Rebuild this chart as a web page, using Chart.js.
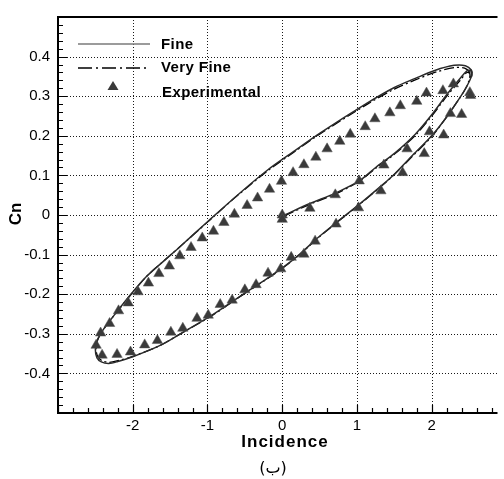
<!DOCTYPE html>
<html>
<head>
<meta charset="utf-8">
<script src="https://cdn.jsdelivr.net/npm/chart.js@4/dist/chart.umd.min.js"></script>
<style>
  body { margin: 0; background: #fff; overflow: hidden; }
  #wrap { width: 504px; height: 479px; }
</style>
</head>
<body>
<div id="wrap"><canvas id="myChart" width="504" height="479"></canvas></div>
<script>
// Cn vs incidence, hysteresis loop (start at 0, up, then around the loop)
const fineX = [0.03, 0.37, 0.72, 1.03, 1.25, 1.51, 1.78, 2.0, 2.21, 2.39, 2.48, 2.53,
  2.52, 2.46, 2.39, 2.21, 2.0, 1.75, 1.51, 1.34, 1.03, 0.75, 0.46, 0.24, 0.02, -0.2, -0.5, -0.94, -1.38, -1.64, -2.0, -2.2, -2.32, -2.42, -2.48, -2.5, -2.48,
  -2.39, -2.24, -2.02, -1.82, -1.56, -1.38, -1.0, -0.6, -0.2, 0.15, 0.5, 1.14, 1.5, 1.78, 2.04, 2.3, 2.45, 2.53, 2.54, 2.52];
const fineY = [0.0, 0.029, 0.056, 0.086, 0.12, 0.157, 0.204, 0.253, 0.306, 0.347, 0.365, 0.362,
  0.345, 0.322, 0.3, 0.25, 0.2, 0.152, 0.105, 0.076, 0.027, -0.015, -0.06, -0.098, -0.131, -0.16, -0.197, -0.253, -0.302, -0.33, -0.358, -0.37, -0.375, -0.371, -0.36, -0.34, -0.318,
  -0.288, -0.251, -0.199, -0.156, -0.112, -0.082, -0.017, 0.05, 0.113, 0.16, 0.206, 0.283, 0.322, 0.345, 0.365, 0.378, 0.377, 0.366, 0.354, 0.345];

const veryFineX = [0.03, 0.37, 0.72, 1.03, 1.25, 1.51, 1.78, 2.0, 2.21, 2.39, 2.47, 2.51,
  2.5, 2.45, 2.38, 2.2, 2.0, 1.75, 1.51, 1.34, 1.03, 0.75, 0.46, 0.24, 0.02, -0.2, -0.5, -0.94, -1.38, -1.64, -2.0, -2.2, -2.31, -2.41, -2.47, -2.49, -2.47,
  -2.38, -2.23, -2.01, -1.82, -1.56, -1.38, -1.0, -0.6, -0.2, 0.15, 0.5, 1.14, 1.5, 1.78, 2.04, 2.3, 2.44, 2.51, 2.52, 2.5];
const veryFineY = [-0.002, 0.027, 0.054, 0.085, 0.118, 0.155, 0.201, 0.25, 0.302, 0.342, 0.36, 0.357,
  0.34, 0.318, 0.297, 0.248, 0.198, 0.15, 0.104, 0.075, 0.026, -0.016, -0.061, -0.099, -0.132, -0.161, -0.198, -0.254, -0.302, -0.33, -0.357, -0.368, -0.372, -0.368, -0.357, -0.338, -0.316,
  -0.286, -0.249, -0.198, -0.156, -0.112, -0.082, -0.018, 0.049, 0.111, 0.158, 0.204, 0.28, 0.318, 0.341, 0.36, 0.372, 0.371, 0.36, 0.35, 0.34];

const expX = [0, 0, 0.37, 0.71, 1.03, 1.36, 1.67, 1.97, 2.25, 2.51,
  2.4, 2.16, 1.9, 1.61, 1.32, 1.02, 0.72, 0.44, 0.29, 0.12, -0.02, -0.19, -0.35, -0.5, -0.67, -0.83, -0.99, -1.14, -1.33, -1.49, -1.67, -1.84, -2.03, -2.21, -2.41, -2.49,
  -2.43, -2.31, -2.19, -2.06, -1.93, -1.79, -1.65, -1.51, -1.37, -1.22, -1.07, -0.92, -0.78, -0.64, -0.47, -0.33, -0.17, -0.01, 0.145, 0.29, 0.45, 0.6, 0.77, 0.91, 1.11, 1.24, 1.44, 1.58, 1.8, 1.93, 2.15, 2.29, 2.52];
const expY = [0, -0.011, 0.017, 0.051, 0.086, 0.126, 0.167, 0.21, 0.256, 0.309,
  0.254, 0.202, 0.155, 0.107, 0.061, 0.018, -0.023, -0.066, -0.099, -0.107, -0.136, -0.147, -0.176, -0.189, -0.215, -0.226, -0.253, -0.261, -0.286, -0.296, -0.317, -0.328, -0.346, -0.352, -0.354, -0.329,
  -0.298, -0.274, -0.242, -0.222, -0.194, -0.172, -0.148, -0.129, -0.103, -0.082, -0.058, -0.041, -0.019, 0.002, 0.024, 0.043, 0.065, 0.085, 0.107, 0.127, 0.146, 0.167, 0.186, 0.204, 0.223, 0.243, 0.258, 0.276, 0.287, 0.308, 0.314, 0.331, 0.302];

const xTicks = [-2, -1, 0, 1, 2];
const yTicks = [-0.4, -0.3, -0.2, -0.1, 0, 0.1, 0.2, 0.3, 0.4];

const FONT = "'Liberation Sans', Arial, sans-serif";
const fineLegendColor = '#7a7a7a';
const fineColor = '#2a2a2a';
const triColor = '#3a3a3a';

function pts(xs, ys) {
  return xs.map((x, i) => ({x: x, y: ys[i]}));
}

// dotted grid at the labelled ticks
const dottedGrid = {
  id: 'dottedGrid',
  beforeDatasetsDraw(chart) {
    const ctx = chart.ctx;
    const a = chart.chartArea;
    const xs = chart.scales.x, ys = chart.scales.y;
    ctx.save();
    ctx.strokeStyle = '#1a1a1a';
    ctx.lineWidth = 1;
    ctx.setLineDash([1, 2]);
    ctx.beginPath();
    xTicks.forEach(v => {
      const px = Math.round(xs.getPixelForValue(v)) + 0.5;
      ctx.moveTo(px, a.top);
      ctx.lineTo(px, a.bottom);
    });
    yTicks.forEach(v => {
      const py = Math.round(ys.getPixelForValue(v)) + 0.5;
      ctx.moveTo(a.left, py);
      ctx.lineTo(a.right, py);
    });
    ctx.stroke();
    ctx.restore();
  }
};

// frame, inward tick marks, axis titles, legend, caption
const decor = {
  id: 'decor',
  afterDraw(chart) {
    const ctx = chart.ctx;
    const a = chart.chartArea;
    const xs = chart.scales.x, ys = chart.scales.y;
    ctx.save();
    ctx.strokeStyle = '#000';
    ctx.lineWidth = 2;
    ctx.beginPath();
    ctx.moveTo(a.left - 1, a.top);
    ctx.lineTo(a.right, a.top);
    ctx.moveTo(a.left, a.top);
    ctx.lineTo(a.left, a.bottom + 1);
    ctx.moveTo(a.left - 1, a.bottom);
    ctx.lineTo(a.right, a.bottom);
    ctx.stroke();

    ctx.lineWidth = 1.2;
    ctx.beginPath();
    for (let i = -15; i <= 15; i++) {
      const v = i * 0.2;
      if (v < xs.min || v > xs.max) continue;
      const px = Math.round(xs.getPixelForValue(v)) + 0.5;
      const len = (i % 5 === 0) ? 8 : 5;
      ctx.moveTo(px, a.bottom);
      ctx.lineTo(px, a.bottom - len);
    }
    for (let i = -25; i <= 25; i++) {
      const v = i * 0.02;
      const py = Math.round(ys.getPixelForValue(v)) + 0.5;
      if (py < a.top + 2 || py > a.bottom - 2) continue;
      const len = (i % 5 === 0) ? 9 : 5;
      ctx.moveTo(a.left, py);
      ctx.lineTo(a.left + len, py);
    }
    ctx.stroke();

    // axis titles
    ctx.fillStyle = '#000';
    ctx.textAlign = 'center';
    ctx.textBaseline = 'middle';
    ctx.font = 'bold 17px ' + FONT;
    ctx.letterSpacing = '1px';
    ctx.fillText('Incidence', 285, 442);
    ctx.letterSpacing = '0px';
    ctx.save();
    ctx.translate(16, 214);
    ctx.rotate(-Math.PI / 2);
    ctx.fillText('Cn', 0, 0);
    ctx.restore();

    // legend
    ctx.lineWidth = 1.6;
    ctx.strokeStyle = fineLegendColor;
    ctx.beginPath();
    ctx.moveTo(78, 44); ctx.lineTo(150, 44);
    ctx.stroke();
    ctx.strokeStyle = '#000';
    ctx.lineWidth = 1.3;
    ctx.setLineDash([14, 4, 2, 4]);
    ctx.beginPath();
    ctx.moveTo(78, 68); ctx.lineTo(150, 68);
    ctx.stroke();
    ctx.setLineDash([]);
    ctx.fillStyle = triColor;
    ctx.beginPath();
    ctx.moveTo(113, 81); ctx.lineTo(118.5, 90); ctx.lineTo(107.5, 90);
    ctx.closePath();
    ctx.fill();

    ctx.fillStyle = '#000';
    ctx.font = 'bold 15px ' + FONT;
    ctx.letterSpacing = '0.4px';
    ctx.textAlign = 'left';
    ctx.fillText('Fine', 161, 45);
    ctx.fillText('Very Fine', 161, 68);
    ctx.fillText('Experimental', 162, 93);
    ctx.letterSpacing = '0px';

    ctx.font = "16px 'DejaVu Sans', sans-serif";
    ctx.textAlign = 'center';
    ctx.fillText('(ب)', 273, 469);
    ctx.restore();
  }
};

new Chart(document.getElementById('myChart').getContext('2d'), {
  type: 'scatter',
  data: {
    datasets: [{
      label: 'Experimental',
      data: pts(expX, expY),
      order: 0,
      pointStyle: 'triangle',
      pointRadius: 6,
      backgroundColor: triColor,
      borderColor: '#555',
      borderWidth: 0.5
    }, {
      label: 'Fine',
      data: pts(fineX, fineY),
      order: 1,
      showLine: true,
      pointRadius: 0,
      borderColor: fineColor,
      borderWidth: 1.5,
      tension: 0.3
    }, {
      label: 'Very Fine',
      data: pts(veryFineX, veryFineY),
      order: 2,
      showLine: true,
      pointRadius: 0,
      borderColor: '#000',
      borderWidth: 1.3,
      borderDash: [10, 3, 2, 3],
      tension: 0.3
    }]
  },
  options: {
    responsive: false,
    animation: false,
    events: [],
    layout: { padding: { top: 14, left: 0, right: 0, bottom: 0 } },
    plugins: { legend: { display: false }, tooltip: { enabled: false } },
    scales: {
      x: {
        type: 'linear',
        min: -3,
        max: 2.88,
        afterBuildTicks: s => { s.ticks = xTicks.map(v => ({value: v})); },
        afterFit: s => { s.height = 66; },
        ticks: { color: '#000', padding: 4, font: { family: FONT, size: 15 }, callback: v => String(v) },
        grid: { display: false, drawTicks: false },
        border: { display: false }
      },
      y: {
        type: 'linear',
        min: -0.5,
        max: 0.5,
        afterBuildTicks: s => { s.ticks = yTicks.map(v => ({value: v})); },
        afterFit: s => { s.width = 58; },
        ticks: { color: '#000', padding: 8, font: { family: FONT, size: 15 }, callback: v => String(Math.round(v * 10) / 10) },
        grid: { display: false, drawTicks: false },
        border: { display: false }
      }
    }
  },
  plugins: [dottedGrid, decor]
});
</script>
</body>
</html>
